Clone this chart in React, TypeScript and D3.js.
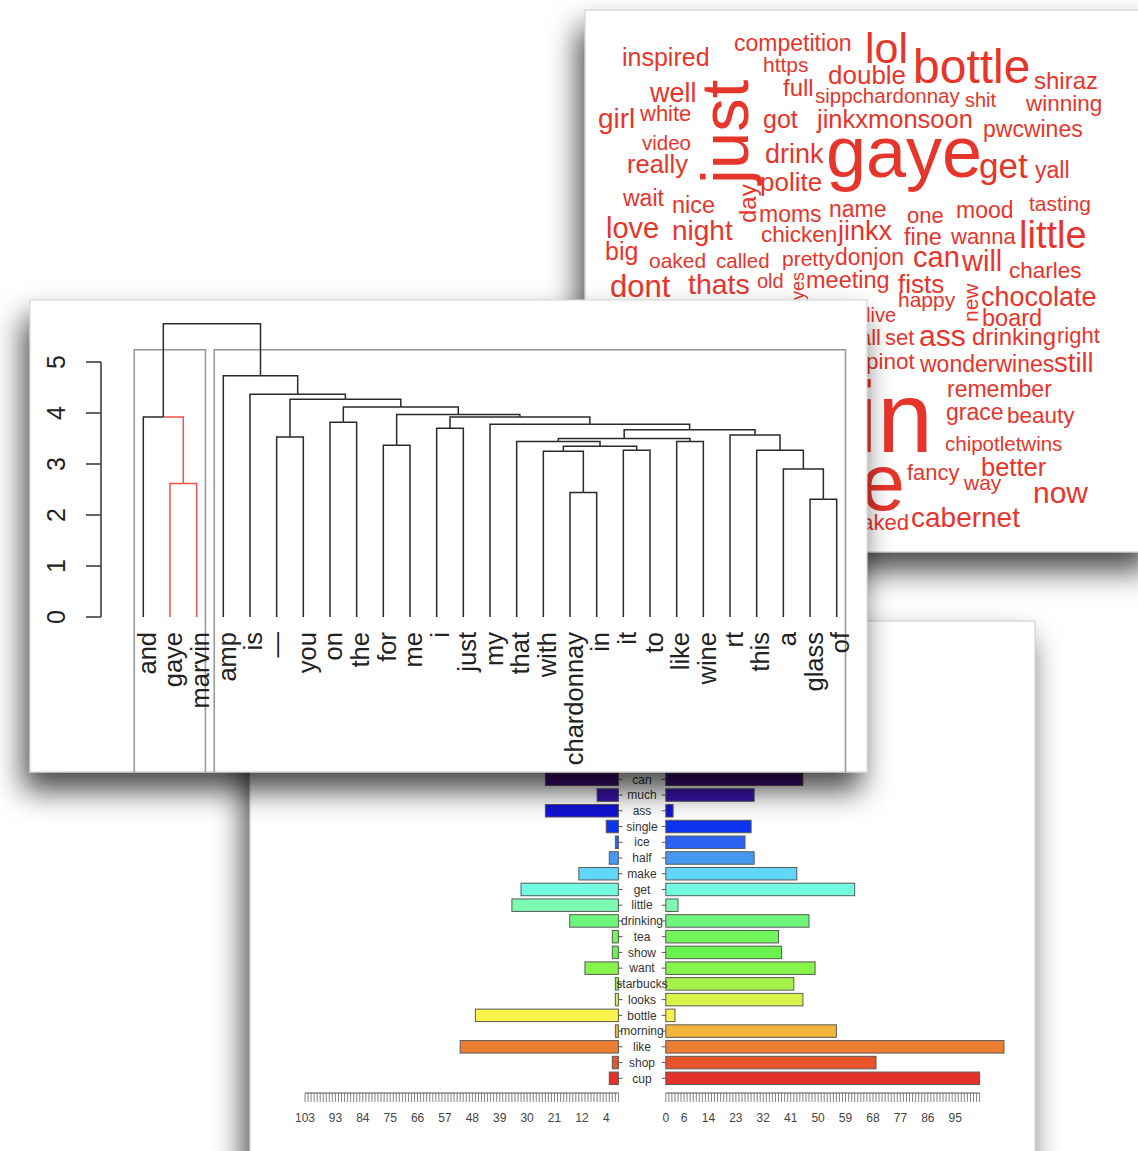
import React from "react";
import * as d3 from "d3";

const FONT = "'Liberation Sans', Arial, Helvetica, sans-serif";
const RED = "#e6352b";

// ---------------- Word cloud (text, size) + layout ----------------
const cloudWords: [string, number][] = [
  ["inspired", 25], ["competition", 23], ["https", 21], ["lol", 43], ["bottle", 48],
  ["shiraz", 24], ["double", 26], ["well", 27], ["full", 24], ["sippchardonnay", 20.5],
  ["shit", 20], ["winning", 22.5], ["girl", 28], ["white", 22], ["got", 25],
  ["jinkxmonsoon", 25.5], ["pwcwines", 23], ["video", 20.5], ["really", 25.5], ["drink", 27],
  ["gaye", 72], ["get", 35], ["yall", 23], ["polite", 26], ["wait", 23],
  ["nice", 23.5], ["moms", 23], ["name", 23], ["one", 22], ["mood", 23],
  ["tasting", 21], ["love", 29], ["night", 28], ["chicken", 22.5], ["jinkx", 27],
  ["fine", 23.5], ["wanna", 22], ["little", 38], ["big", 25], ["oaked", 21],
  ["called", 20.5], ["pretty", 21], ["donjon", 23], ["can", 29], ["will", 29],
  ["charles", 22.5], ["dont", 31], ["thats", 28.5], ["old", 20], ["meeting", 23.5],
  ["fists", 26], ["chocolate", 27], ["happy", 21], ["board", 23.5], ["live", 20],
  ["set", 22], ["ass", 30], ["drinking", 24], ["right", 22], ["pinot", 22.5],
  ["wonderwines", 23], ["still", 27.5], ["remember", 23], ["grace", 23], ["beauty", 22.5],
  ["chipotletwins", 20.5], ["better", 25.5], ["fancy", 22], ["way", 21], ["now", 30],
  ["cabernet", 28], ["think", 24],
  ["just", 67], ["day", 24], ["yes", 18], ["new", 21],
  ["marvin", 100], ["wine", 80], ["naked", 22], ["all", 22],
];
// layout: x, y(baseline), rotate, anchor
const cloudLayout: [number, number, number, string][] = [
  [622, 66, 0, "start"], [734, 51, 0, "start"], [763, 72, 0, "start"], [865, 63, 0, "start"], [913, 83, 0, "start"],
  [1034, 89, 0, "start"], [828, 84, 0, "start"], [650, 102, 0, "start"], [783, 96, 0, "start"], [815, 103, 0, "start"],
  [965, 107, 0, "start"], [1026, 111, 0, "start"], [598, 128, 0, "start"], [640, 121, 0, "start"], [763, 128, 0, "start"],
  [817, 128, 0, "start"], [983, 137, 0, "start"], [642, 150, 0, "start"], [627, 173, 0, "start"], [765, 163, 0, "start"],
  [826, 177, 0, "start"], [979, 178, 0, "start"], [1035, 178, 0, "start"], [760, 191, 0, "start"], [623, 206, 0, "start"],
  [672, 213, 0, "start"], [759, 222, 0, "start"], [829, 217, 0, "start"], [907, 223, 0, "start"], [956, 218, 0, "start"],
  [1029, 211, 0, "start"], [606, 238, 0, "start"], [672, 240, 0, "start"], [761, 242, 0, "start"], [838, 240, 0, "start"],
  [904, 245, 0, "start"], [951, 244, 0, "start"], [1019, 248, 0, "start"], [605, 260, 0, "start"], [649, 268, 0, "start"],
  [716, 268, 0, "start"], [782, 266, 0, "start"], [835, 265, 0, "start"], [913, 267, 0, "start"], [962, 271, 0, "start"],
  [1009, 278, 0, "start"], [610, 297, 0, "start"], [688, 294, 0, "start"], [757, 288, 0, "start"], [806, 288, 0, "start"],
  [898, 293, 0, "start"], [981, 306, 0, "start"], [898, 307, 0, "start"], [982, 326, 0, "start"], [866, 322, 0, "start"],
  [885, 345, 0, "start"], [919, 346, 0, "start"], [972, 345, 0, "start"], [1057, 343, 0, "start"], [866, 369, 0, "start"],
  [920, 372, 0, "start"], [1054, 372, 0, "start"], [947, 397, 0, "start"], [946, 420, 0, "start"], [1007, 423, 0, "start"],
  [945, 451, 0, "start"], [981, 476, 0, "start"], [907, 480, 0, "start"], [964, 490, 0, "start"], [1033, 503, 0, "start"],
  [911, 527, 0, "start"], [806, 320, 0, "start"],
  [748, 184, -90, "start"], [756, 223, -90, "start"], [804, 300, -90, "start"], [978, 322, -90, "start"],
  [933, 452, 0, "end"], [905, 510, 0, "end"], [909, 530, 0, "end"], [881, 345, 0, "end"],
];

// ---------------- Dendrogram ----------------
const leaves = ["and", "gaye", "marvin", "amp", "is", "—", "you", "on", "the", "for", "me", "i", "just", "my",
  "that", "with", "chardonnay", "in", "it", "to", "like", "wine", "rt", "this", "a", "glass", "of"];
const merges: [string, string, number][] = [
  ["gaye", "marvin", 2.62], ["and", "m1", 3.92], ["chardonnay", "in", 2.44], ["glass", "of", 2.31],
  ["a", "m4", 2.90], ["with", "m3", 3.25], ["it", "to", 3.27], ["this", "m5", 3.27],
  ["m6", "m7", 3.35], ["for", "me", 3.37], ["that", "m9", 3.44], ["like", "wine", 3.44],
  ["m11", "m12", 3.50], ["—", "you", 3.53], ["rt", "m8", 3.57], ["m13", "m15", 3.67],
  ["i", "just", 3.70], ["my", "m16", 3.78], ["on", "the", 3.82], ["m17", "m18", 3.92],
  ["m10", "m20", 3.97], ["m19", "m21", 4.12], ["m14", "m22", 4.27], ["is", "m23", 4.37],
  ["amp", "m24", 4.73], ["m2", "m25", 5.75],
];
const redBranches = ["m1", "gaye", "marvin"];
const clusterGroups = [["and", "marvin"], ["amp", "of"]];
const heightTicks = [0, 1, 2, 3, 4, 5];

// ---------------- Pyramid ----------------
const pyrWords = ["can", "much", "ass", "single", "ice", "half", "make", "get", "little", "drinking",
  "tea", "show", "want", "starbucks", "looks", "bottle", "morning", "like", "shop", "cup"];
const leftVals = [24, 7, 24, 4, 1, 3, 13, 32, 35, 16, 2, 2, 11, 1, 1, 47, 1, 52, 2, 3];
const rightVals = [45, 29, 2.4, 28, 26, 29, 43, 62, 4, 47, 37, 38, 49, 42, 45, 3, 56, 111, 69, 103];
const pyrColors = ["#420c78", "#3612ad", "#1212d6", "#0c34ef", "#2c63f2", "#4699f0", "#60d6f8", "#72fbe0",
  "#7cfab2", "#6ef57c", "#72f45c", "#6af24e", "#86f44a", "#a6f44a", "#d6f44a", "#f8f24a", "#f2b63c",
  "#ec7e31", "#e85429", "#e5312a"];
const leftTickLabels = [103, 93, 84, 75, 66, 57, 48, 39, 30, 21, 12, 4];
const rightTickLabels = [0, 6, 14, 23, 32, 41, 50, 59, 68, 77, 86, 95];
const axisMax = 103;

export default function App() {
  // panels
  const A = { x: 585, y: 10, w: 570, h: 542 };
  const B = { x: 30, y: 300, w: 837, h: 472 };
  const C = { x: 250, y: 621, w: 785, h: 560 };

  // dendrogram scales
  const xLeaf = d3.scalePoint<string>().domain(leaves).range([143.3, 836.7]);
  const step = xLeaf.step();
  const yH = d3.scaleLinear().domain([0, 5]).range([617, 362]);
  const pos: Record<string, { x: number; h: number }> = {};
  leaves.forEach((l) => (pos[l] = { x: xLeaf(l) as number, h: 0 }));
  merges.forEach(([a, b, h], i) => {
    pos["m" + (i + 1)] = { x: (pos[a].x + pos[b].x) / 2, h };
  });
  const edges: { d: string; red: boolean }[] = [];
  merges.forEach(([a, b], i) => {
    const p = pos["m" + (i + 1)];
    [a, b].forEach((c) => {
      const q = pos[c];
      edges.push({
        d: `M${p.x},${yH(p.h)}H${q.x}V${yH(q.h)}`,
        red: redBranches.includes(c),
      });
    });
  });
  const topTwo = merges.slice(-2).map((m) => m[2]);
  const rectTop = yH(d3.mean(topTwo) as number);

  // pyramid scales
  const yRow = d3.scalePoint<string>().domain(pyrWords).range([779.3, 1078.3]);
  const xL = d3.scaleLinear().domain([0, axisMax]).range([618.4, 305]);
  const xR = d3.scaleLinear().domain([0, axisMax]).range([665.8, 979.6]);
  const barH = 12.5;
  const axisY = 1093;
  const ticks = d3.range(0, axisMax + 1);

  return (
    <svg width={1138} height={1151} style={{ position: "absolute", left: 0, top: 0, background: "#fff" }}
      fontFamily={FONT}>
      <defs>
        <filter id="sh" x="-10%" y="-10%" width="125%" height="130%">
          <feDropShadow dx={-6} dy={18} stdDeviation={15} floodColor="#000" floodOpacity={0.72} />
        </filter>
        <clipPath id="clipB"><rect x={B.x} y={B.y} width={B.w} height={B.h} /></clipPath>
        <clipPath id="clipA"><rect x={A.x} y={A.y} width={A.w} height={A.h} /></clipPath>
      </defs>
      <rect width={1138} height={1151} fill="#fff" />

      {/* Panel C: pyramid */}
      <rect x={C.x} y={C.y} width={C.w} height={C.h} fill="#fff" stroke="#c8c8c8" filter="url(#sh)" />
      <g>
        {pyrWords.map((w, i) => {
          const cy = yRow(w) as number;
          return (
            <g key={w}>
              <rect x={xL(leftVals[i])} y={cy - barH / 2} width={xL(0) - xL(leftVals[i])} height={barH}
                fill={pyrColors[i]} stroke="#5a5a5a" strokeWidth={1} />
              <rect x={xR(0)} y={cy - barH / 2} width={xR(rightVals[i]) - xR(0)} height={barH}
                fill={pyrColors[i]} stroke="#5a5a5a" strokeWidth={1} />
              <line x1={618.4} x2={622.5} y1={cy} y2={cy} stroke="#555" />
              <line x1={661.7} x2={665.8} y1={cy} y2={cy} stroke="#555" />
              <text x={642} y={cy + 4.2} fontSize={12} textAnchor="middle" fill="#333">{w}</text>
            </g>
          );
        })}
        <line x1={xL(axisMax)} x2={xL(0)} y1={axisY} y2={axisY} stroke="#555" />
        <line x1={xR(0)} x2={xR(axisMax)} y1={axisY} y2={axisY} stroke="#555" />
        {ticks.map((t) => (
          <g key={t}>
            <line x1={xL(t)} x2={xL(t)} y1={axisY} y2={axisY + 9} stroke="#666" strokeWidth={0.8} />
            <line x1={xR(t)} x2={xR(t)} y1={axisY} y2={axisY + 9} stroke="#666" strokeWidth={0.8} />
          </g>
        ))}
        {leftTickLabels.map((t) => (
          <text key={"l" + t} x={xL(t)} y={axisY + 29} fontSize={12} textAnchor="middle" fill="#444">{t}</text>
        ))}
        {rightTickLabels.map((t) => (
          <text key={"r" + t} x={xR(t)} y={axisY + 29} fontSize={12} textAnchor="middle" fill="#444">{t}</text>
        ))}
      </g>

      {/* Panel A: word cloud */}
      <rect x={A.x} y={A.y} width={A.w} height={A.h} fill="#fff" stroke="#c8c8c8" filter="url(#sh)" />
      <g clipPath="url(#clipA)" fill={RED}>
        {cloudWords.map(([w, s], i) => {
          const [x, y, r, anchor] = cloudLayout[i];
          return (
            <text key={w} x={x} y={y} fontSize={s} textAnchor={anchor}
              transform={r ? `rotate(${r},${x},${y})` : undefined}>{w}</text>
          );
        })}
      </g>

      {/* Panel B: dendrogram */}
      <rect x={B.x} y={B.y} width={B.w} height={B.h} fill="#fff" stroke="#cfcfcf" filter="url(#sh)" />
      <g clipPath="url(#clipB)">
        {clusterGroups.map(([a, b], i) => (
          <rect key={i} x={(xLeaf(a) as number) - 0.34 * step} y={rectTop}
            width={(xLeaf(b) as number) + 0.33 * step - ((xLeaf(a) as number) - 0.34 * step)}
            height={800} fill="none" stroke="#9a9a9a" strokeWidth={1.6} />
        ))}
        {edges.map((e, i) => (
          <path key={i} d={e.d} fill="none" stroke={e.red ? "#f0504a" : "#2a2a2a"} strokeWidth={1.5} />
        ))}
        {leaves.map((l) => {
          const x = (xLeaf(l) as number) + (l === "—" ? 8 : 12.5);
          const y = 632;
          return (
            <text key={l} x={x} y={y} fontSize={25.5} textAnchor="end" fill="#222"
              transform={`rotate(-90,${x},${y})`}>{l}</text>
          );
        })}
        <line x1={101} x2={101} y1={yH(0)} y2={yH(5)} stroke="#333" strokeWidth={1.5} />
        {heightTicks.map((t) => (
          <g key={t}>
            <line x1={86} x2={101} y1={yH(t)} y2={yH(t)} stroke="#333" strokeWidth={1.5} />
            <text x={65} y={yH(t)} fontSize={25} textAnchor="middle" fill="#222"
              transform={`rotate(-90,65,${yH(t)})`}>{t}</text>
          </g>
        ))}
      </g>
    </svg>
  );
}
